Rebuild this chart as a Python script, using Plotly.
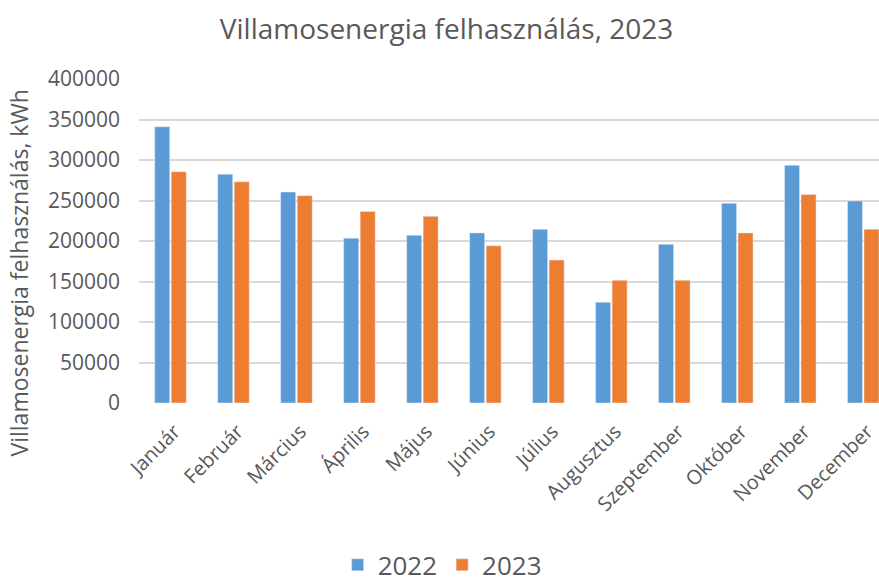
import plotly.graph_objects as go

months = ["Január", "Február", "Március", "Április", "Május", "Június", "Július",
          "Augusztus", "Szeptember", "Október", "November", "December"]
v2022 = [341000, 282500, 260500, 203500, 207000, 210000, 214500, 124500, 196000, 246500, 293500, 249500]
v2023 = [285500, 273000, 256000, 236500, 230500, 194000, 176500, 151500, 151500, 210000, 257500, 214500]
tickvals_y = [0, 50000, 100000, 150000, 200000, 250000, 300000, 350000, 400000]
ticktext_y = [str(v) for v in tickvals_y]

TXT = "#595959"
FONT = "Open Sans"

fig = go.Figure()
fig.add_trace(go.Bar(x=months, y=v2022, name="2022", marker_color="#5B9BD5"))
fig.add_trace(go.Bar(x=months, y=v2023, name="2023", marker_color="#ED7D31"))

fig.update_layout(
    width=879, height=577,
    margin=dict(l=139, r=0, t=79, b=174),
    paper_bgcolor="white", plot_bgcolor="white",
    barmode="group", bargap=0.476, bargroupgap=0.09,
    font=dict(family=FONT, color=TXT),
    title=dict(text="Villamosenergia felhasználás, 2023", x=0.508, xanchor="center",
               y=0.95, yanchor="middle", font=dict(size=28, color=TXT, family=FONT)),
    legend=dict(orientation="h", xref="container", yref="container", x=0.503, xanchor="center",
                y=0.021, yanchor="middle", font=dict(size=26, color=TXT, family=FONT),
                traceorder="normal"),
    xaxis=dict(range=[-0.5, 11.25], tickangle=-45, tickfont=dict(size=20, color=TXT),
               showgrid=False, showline=False, ticks="", automargin=False,
               ticklabelshift=4, ticklabelstandoff=12),
    yaxis=dict(range=[0, 400000], tickvals=tickvals_y, ticktext=ticktext_y,
               tickfont=dict(size=21, color=TXT),
               showgrid=True, gridcolor="#D9D9D9", gridwidth=1.5, zeroline=False,
               ticks="", ticklabelstandoff=18, showline=False, automargin=False),
    annotations=[dict(text="Villamosenergia felhasználás, kWh", textangle=-90,
                      xref="paper", yref="paper", x=-0.162, y=0.40, xanchor="center",
                      yanchor="middle", showarrow=False, font=dict(size=23, color=TXT, family=FONT))],
)

fig.write_html("out.html", config={"displayModeBar": False},
               post_script="document.body.style.margin='0';document.body.style.overflow='hidden';")
